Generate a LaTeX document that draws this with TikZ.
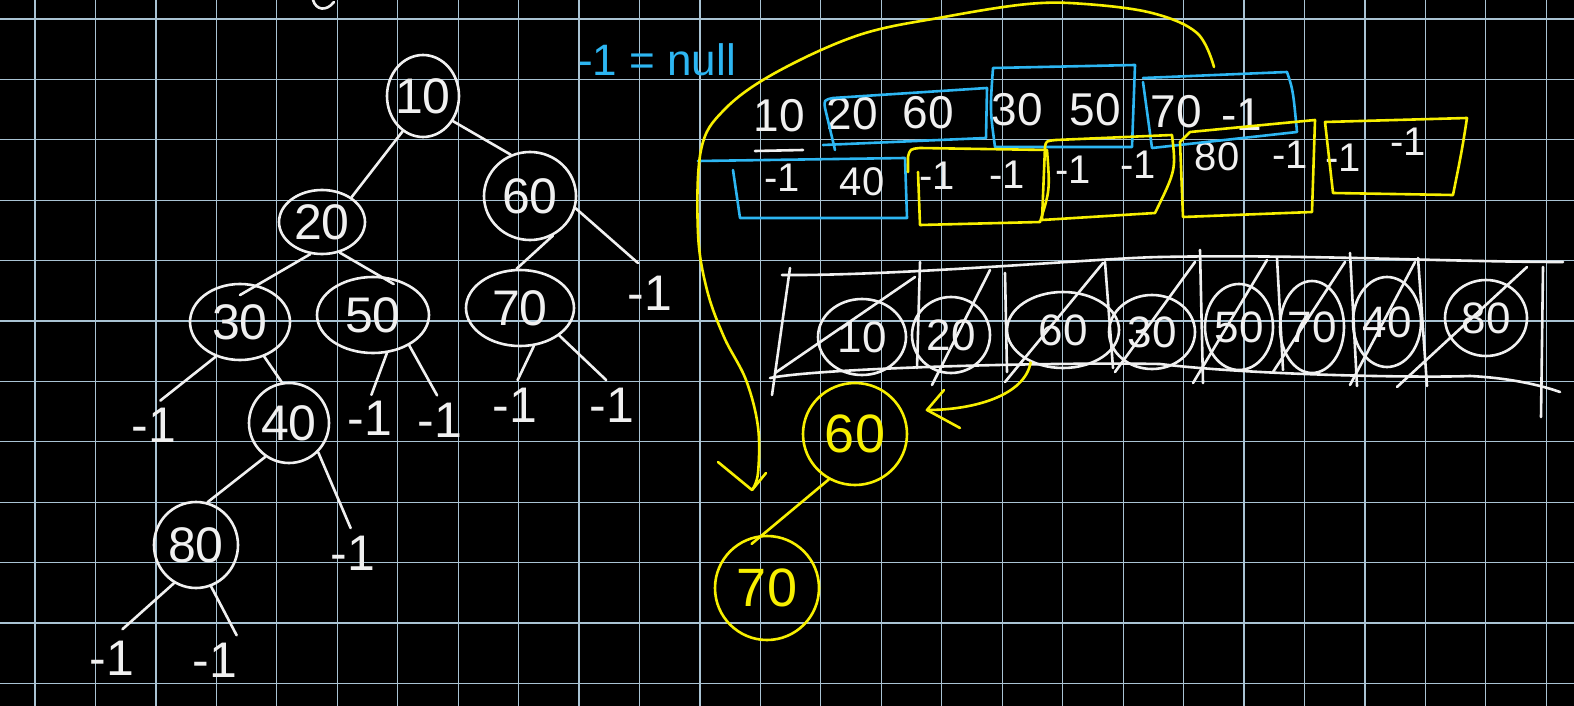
\documentclass[tikz,border=0pt]{standalone}
\usepackage{fontspec}
\setmainfont{Liberation Sans}
\usetikzlibrary{shapes.geometric}
\definecolor{wht}{HTML}{F0F0F0}
\definecolor{gridc}{HTML}{A9C3D3}
\definecolor{cyn}{HTML}{2DB6F2}
\definecolor{ylw}{HTML}{F7EF00}
\begin{document}
\begin{tikzpicture}[x=1pt,y=-1pt,
  ink/.style={line width=2.6pt, line cap=round, line join=round},
  wline/.style={ink, draw=wht},
  yline/.style={ink, draw=ylw},
  cline/.style={ink, draw=cyn},
  gline/.style={draw=gridc, line width=1.2pt},
  tnode/.style={ellipse, draw=wht, ink, text=wht, inner sep=-6pt, font=\fontsize{50}{50}\selectfont},
  nlab/.style={text=wht, inner sep=2pt, font=\fontsize{50}{50}\selectfont},
  arow/.style={text=wht, inner sep=1pt, font=\fontsize{46}{46}\selectfont},
  brow/.style={text=wht, inner sep=1pt, font=\fontsize{40}{40}\selectfont},
  cnode/.style={ellipse, draw=wht, ink, text=wht, inner sep=-5pt, font=\fontsize{44}{44}\selectfont},
  ynode/.style={ellipse, draw=ylw, ink, text=ylw, inner sep=-6pt, font=\fontsize{54}{54}\selectfont}
]
\useasboundingbox (0,0) rectangle (1574,706);
\fill[black] (0,0) rectangle (1574,706);
% grid
\foreach \i in {0,...,25} \draw[gline] ({35+60.45*\i},0) -- ({35+60.45*\i},706);
\foreach \j in {0,...,11} \draw[gline] (0,{19+60.4*\j}) -- (1574,{19+60.4*\j});

% small mark at top
\draw[wline] (313,0) .. controls (316,10) and (326,12) .. (334,2);

% ---------------- tree ----------------
\node[tnode, minimum width=72pt, minimum height=82pt] (t10) at (423,96) {10};
\node[tnode, minimum width=86pt, minimum height=64pt] (t20) at (322,222) {20};
\node[tnode, minimum width=92pt, minimum height=88pt] (t60) at (530,196) {60};
\node[tnode, minimum width=100pt, minimum height=76pt] (t30) at (240,322) {30};
\node[tnode, minimum width=112pt, minimum height=76pt] (t50) at (373,315) {50};
\node[tnode, minimum width=108pt, minimum height=76pt] (t70) at (520,308) {70};
\node[tnode, minimum width=80pt, minimum height=80pt] (t40) at (289,423) {40};
\node[tnode, minimum width=84pt, minimum height=86pt] (t80) at (196,545) {80};

\node[nlab] (n60r) at (650,293) {-1};
\node[nlab] (n30l) at (154,425) {-1};
\node[nlab] (n50l) at (370,418) {-1};
\node[nlab] (n50r) at (440,420) {-1};
\node[nlab] (n70l) at (515,405) {-1};
\node[nlab] (n70r) at (612,405) {-1};
\node[nlab] (n40r) at (353,553) {-1};
\node[nlab] (n80l) at (112,658) {-1};
\node[nlab] (n80r) at (215,660) {-1};

\draw[wline] (t10.240) -- (t20.40);
\draw[wline] (t10.-40) -- (t60.115);
\draw[wline] (t60.-60) -- (t70.95);
\draw[wline, shorten >=16pt] (t60.-15) -- (n60r.north);
\draw[wline, shorten >=-20pt] (t20.250) -- (t30.65);
\draw[wline, shorten >=-16pt] (t20.-60) -- (t50.80);
\draw[wline, shorten >=8pt] (t30.235) -- (n30l.north);
\draw[wline] (t30.-55) -- (t40.100);
\draw[wline, shorten >=4pt] (t50.290) -- (n50l.north);
\draw[wline, shorten >=6pt] (t50.-40) -- (n50r.north);
\draw[wline, shorten >=6pt] (t70.290) -- (n70l.north);
\draw[wline, shorten >=8pt] (t70.-35) -- (n70r.north);
\draw[wline] (t40.235) -- (t80.75);
\draw[wline, shorten >=6pt] (t40.-45) -- (n40r.north);
\draw[wline, shorten >=14pt] (t80.240) -- (n80l.north);
\draw[wline, shorten >=6pt] (t80.-70) -- (n80r.north east);

% ---------------- legend ----------------
\node[text=cyn, inner sep=0pt, font=\fontsize{44}{44}\selectfont] (nulltxt) at (657,60) {-1 = null};

% ---------------- array rows ----------------
\node[arow] (a1) at (779,116) {10};
\node[arow] (a2) at (852,114) {20};
\node[arow] (a3) at (928,113) {60};
\node[arow] (a4) at (1017,110) {30};
\node[arow] (a5) at (1095,110) {50};
\node[arow] (a6) at (1176,112) {70};
\node[arow] (a7) at (1242,115) {-1};

\node[brow] (b1) at (782,178) {-1};
\node[brow] (b2) at (862,182) {40};
\node[brow] (b3) at (937,176) {-1};
\node[brow] (b4) at (1007,175) {-1};
\node[brow] (b5) at (1073,170) {-1};
\node[brow] (b6) at (1138,165) {-1};
\node[brow] (b7) at (1217,157) {80};
\node[brow] (b8) at (1290,155) {-1};
\node[brow] (b9) at (1343,158) {-1};
\node[brow] (b10) at (1408,142) {-1};
\draw[wline] (755,151) -- (803,150);

% cyan boxes
\draw[cline] (835,150) -- (825,108) .. controls (824,100) .. (833,98) -- (987,88) -- (986,138) -- (823,145);
\draw[cline] (995,147) .. controls (990,110) .. (993,68) -- (1135,65) -- (1132,147) -- cycle;
\draw[cline] (1143,78) -- (1287,72) .. controls (1293,90) .. (1297,132) -- (1152,148) -- (1143,82);
\draw[cline] (698,161) -- (905,158) -- (907,218) -- (740,218) -- (733,170);

% yellow boxes
\draw[yline] (908,172) -- (908,157) .. controls (910,149) .. (920,148) -- (1047,150) .. controls (1050,190) .. (1040,222) -- (920,225) -- (918,172);
\draw[yline] (1045,147) .. controls (1046,141) .. (1056,140) -- (1172,135) .. controls (1176,170) .. (1155,213) -- (1042,220) -- cycle;
\draw[yline] (1180,142) -- (1190,132) -- (1315,120) -- (1312,212) -- (1183,217) -- cycle;
\draw[yline] (1325,122) -- (1467,118) .. controls (1462,150) .. (1453,195) -- (1333,193) -- cycle;

% ---------------- white array ----------------
\draw[wline] (782,275) .. controls (900,276) and (1100,258) .. (1160,257) .. controls (1300,254) and (1450,262) .. (1563,262);
\draw[wline] (770,378) .. controls (820,368) and (1050,362) .. (1160,364) .. controls (1250,375) and (1420,378) .. (1470,376) .. controls (1510,378) and (1540,385) .. (1560,392);
\draw[wline] (790,268) -- (772,395);
\draw[wline] (920,262) -- (917,368);
\draw[wline] (1005,273) -- (1007,372);
\draw[wline] (1105,262) -- (1113,368);
\draw[wline] (1200,250) -- (1203,383);
\draw[wline] (1277,258) -- (1283,370);
\draw[wline] (1350,253) -- (1357,386);
\draw[wline] (1418,258) -- (1427,386);
\draw[wline] (1543,267) -- (1541,417);

\node[cnode, minimum width=88pt, minimum height=76pt] (c1) at (862,337) {10};
\node[cnode, minimum width=78pt, minimum height=76pt] (c2) at (951,335) {20};
\node[cnode, minimum width=112pt, minimum height=76pt] (c3) at (1063,330) {60};
\node[cnode, minimum width=86pt, minimum height=74pt] (c4) at (1152,332) {30};
\node[cnode, minimum width=68pt, minimum height=86pt] (c5) at (1239,327) {50};
\node[cnode, minimum width=64pt, minimum height=92pt] (c6) at (1312,327) {70};
\node[cnode, minimum width=68pt, minimum height=90pt] (c7) at (1387,322) {40};
\node[cnode, minimum width=82pt, minimum height=76pt] (c8) at (1486,318) {80};

% strikes
\draw[wline] (775,373) -- (915,277);
\draw[wline] (932,385) -- (990,270);
\draw[wline] (1005,382) -- (1103,263);
\draw[wline] (1115,372) -- (1195,262);
\draw[wline] (1193,383) -- (1267,260);
\draw[wline] (1273,372) -- (1345,262);
\draw[wline] (1350,385) -- (1415,262);
\draw[wline] (1397,387) -- (1527,267);

% ---------------- yellow part ----------------
\node[ynode, minimum width=104pt, minimum height=102pt] (y60) at (855,434) {60};
\node[ynode, minimum width=104pt, minimum height=104pt] (y70) at (767,588) {70};
\draw[yline, shorten >=-14pt] (y60.240) -- (y70.95);

\coordinate (tip2) at (927,410);
\draw[yline] (c3.225) .. controls (1025,395) and (975,410) .. (tip2);
\draw[yline] (944,390) -- (tip2) -- (960,428);

\coordinate (ys) at (1214,67);
\coordinate (ye) at (752,490);
\draw[yline] plot[smooth, tension=0.6] coordinates {(ys) (1197,33) (1152,13) (1085,4) (1028,4) (944,17) (859,35) (775,73) (724,110) (701,150) (698,233) (707,290) (724,337) (746,380) (758,427) (758,473) (ye)};
\draw[yline] (718,462) -- (ye) -- (766,473);
\end{tikzpicture}
\end{document}
